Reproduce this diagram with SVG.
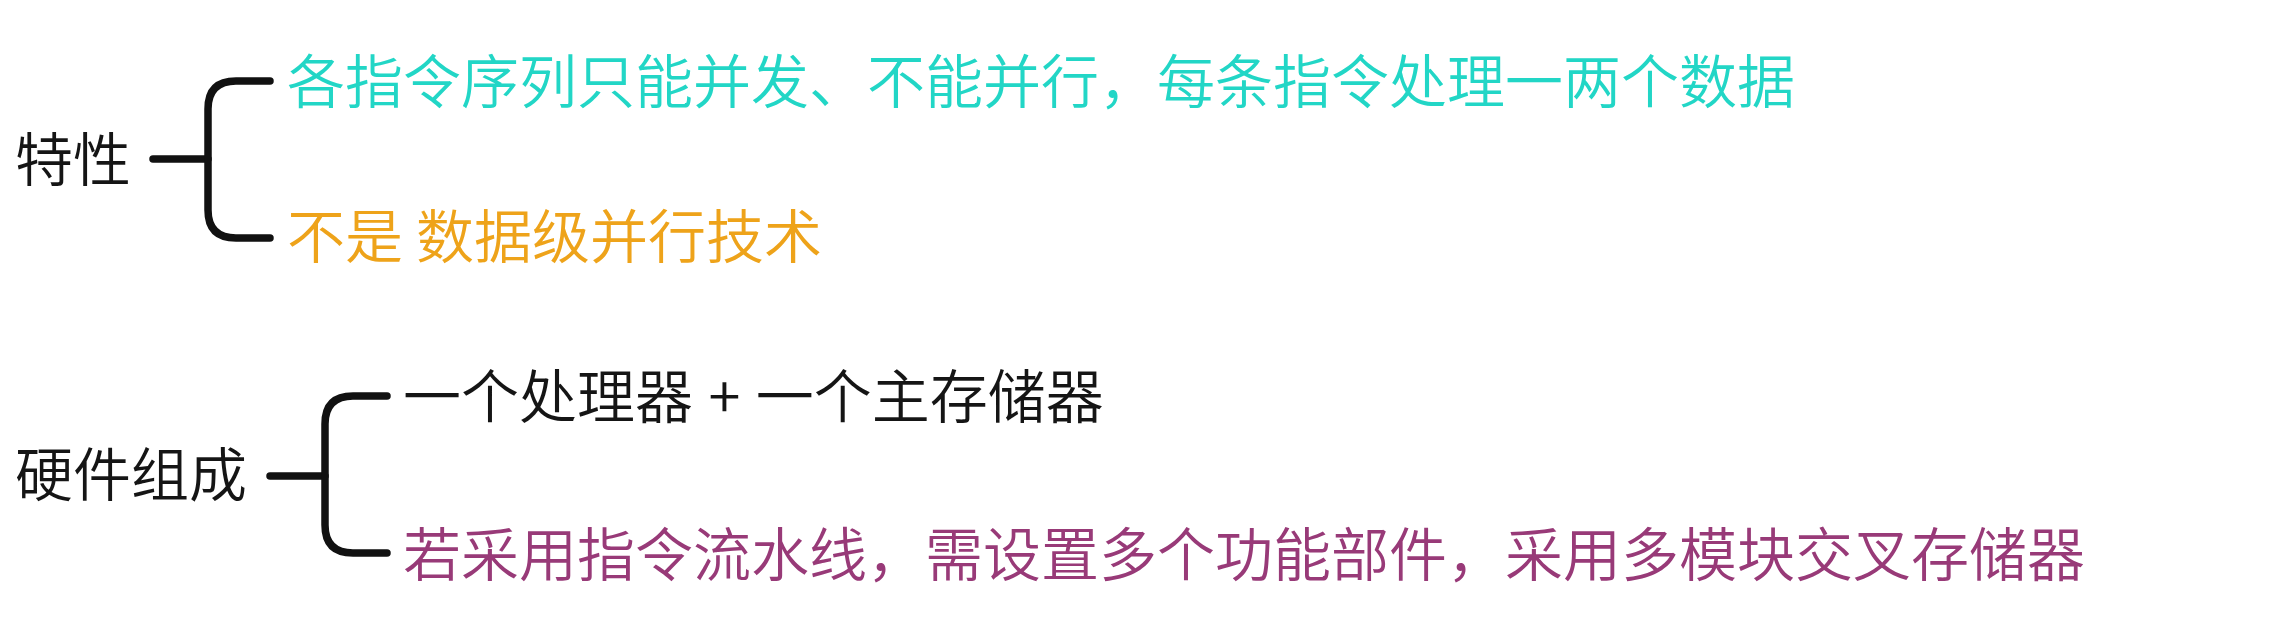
<svg xmlns="http://www.w3.org/2000/svg" width="2274" height="621" viewBox="0 0 2274 621">
<style>
text{font-family:"Noto Sans CJK SC","Noto Sans",sans-serif;font-size:58px;font-weight:350}
.k{fill:#151515}
.teal{fill:#22d6c6}
.orange{fill:#eea31a}
.purple{fill:#983a78}
.br{fill:none;stroke:#111;stroke-width:7.5;stroke-linecap:round;stroke-linejoin:round}
</style>
<rect width="2274" height="621" fill="#ffffff"/>
<g id="connectors">
<path class="br" d="M153 159 H208"/>
<path class="br" d="M270 81 H236 Q208 81 208 109 V210 Q208 238 236 238 H270"/>
<path class="br" d="M270 476 H325"/>
<path class="br" d="M387 396 H353 Q325 396 325 424 V525 Q325 553 353 553 H387"/>
</g>
<g id="n-texing"><text class="k" x="15" y="181">特性</text></g>
<g id="n-t1"><text class="teal" x="287" y="103">各指令序列只能并发、不能并行，每条指令处理一两个数据</text></g>
<g id="n-t2"><text class="orange" x="287" y="258">不是 数据级并行技术</text></g>
<g id="n-yingjian"><text class="k" x="15" y="496">硬件组成</text></g>
<g id="n-h1"><text class="k" x="403" y="418" word-spacing="2.5">一个处理器 + 一个主存储器</text></g>
<g id="n-h2"><text class="purple" x="403" y="576">若采用指令流水线，需设置多个功能部件，采用多模块交叉存储器</text></g>
</svg>
